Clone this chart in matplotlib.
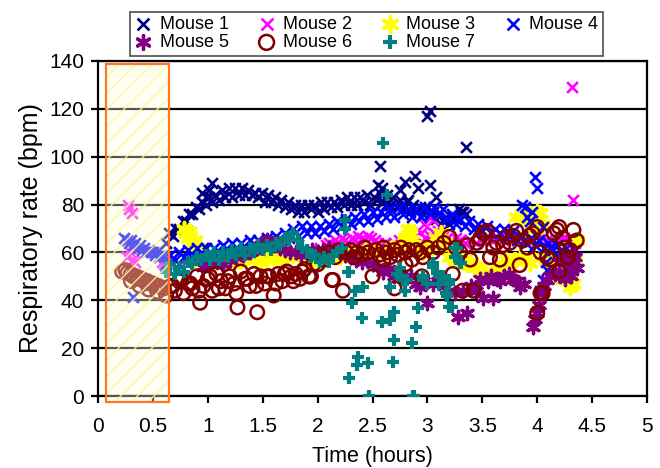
import matplotlib
matplotlib.use("Agg")
import matplotlib.pyplot as plt
from matplotlib.patches import Rectangle

plt.rcParams['font.family'] = ['Liberation Sans', 'DejaVu Sans']

# ---------------- data (time in hours, rate in bpm) ----------------
# Mouse 1
m1_t = [0.62,0.65,0.68,0.71,0.74,0.77,0.80,0.83,0.86,0.89,0.92,0.95,0.98,1.01,1.04,1.07,1.10,1.13,1.16,1.19,
        1.22,1.25,1.28,1.31,1.34,1.37,1.40,1.43,1.46,1.49,1.52,1.55,1.58,1.61,1.64,1.67,1.70,1.73,1.76,1.79,
        1.82,1.85,1.88,1.91,1.94,1.97,2.00,2.03,2.06,2.09,2.12,2.15,2.18,2.21,2.24,2.27,2.30,2.33,2.36,2.39,
        2.42,2.45,2.48,2.51,2.54,2.57,2.60,2.63,2.66,2.69,2.72,2.75,2.78,2.81,2.84,2.87,2.90,2.93,2.96,2.99,
        3.02,3.05,3.08,3.11,3.14,3.17,3.20,3.23,3.26,3.29,3.32,3.35,
        0.95,0.98,1.01,1.04,0.96,2.57,2.59,2.80,2.89,2.91,3.02,3.00,3.02,3.35,2.82,2.62,3.08,3.31,2.55,2.75]
m1_v = [64,68,67,70,70,73,73,76,76,79,78,81,80,83,81,84,82,86,83,87,
        83,87,84,87,84,86,84,85,83,85,81,84,81,83,80,82,79,81,78,80,
        77,80,77,80,78,80,77,81,78,81,79,81,79,82,80,83,80,83,80,83,
        81,84,80,83,82,85,81,84,80,83,79,82,78,81,77,80,77,79,76,78,
        75,77,74,76,73,75,72,75,74,78,77,76,
        85,83,86,89,62,96,87,89.5,92,87,88,117,119,104,82,80,83,77,88,86]

# Mouse 2
m2_t = [0.27,0.28,0.31,0.26,0.29,0.32,0.34,0.30,0.58,0.60,0.62,
        0.66,0.74,0.82,0.90,0.98,1.06,1.14,1.22,1.30,1.38,1.46,1.54,1.62,1.70,1.78,1.86,1.94,2.02,2.08,
        2.10,2.13,2.16,2.19,2.22,2.25,2.28,2.31,2.34,2.37,2.40,2.43,2.46,2.49,2.52,2.55,2.58,2.61,2.64,2.67,2.70,
        2.74,2.78,2.82,2.86,2.90,2.94,2.98,3.02,3.06,3.10,3.14,3.18,3.22,3.26,3.30,
        3.34,3.39,3.44,3.49,3.54,3.59,3.64,3.69,3.74,3.79,3.84,3.89,3.94,3.99,4.04,4.09,4.14,4.19,4.24,4.29,4.34,
        3.05,2.97,4.32,4.33]
m2_v = [80,78,76.5,58,60,57,56,62,56,55,56,
        56,55,57,56,57,56,57,58,57,58,59,58,59,60,59,60,61,62,63,
        64,63,65,64,66,65,64,66,65,67,66,65,67,66,65,64,63,64,62,63,64,
        65,64,66,65,67,68,66,67,68,69,67,66,65,66,65,
        64,65,64,65,66,65,66,65,66,67,66,65,66,67,66,65,64,65,66,65,64,
        73.5,72,129,82]

# Mouse 3
m3_t = [0.78,0.80,0.82,0.84,0.86,0.88,0.90,0.83,0.87,
        0.94,1.00,1.06,1.12,1.18,1.24,1.30,1.36,1.42,1.48,1.54,1.60,1.66,1.72,1.78,1.84,1.90,1.96,2.02,2.08,
        2.14,2.20,2.26,2.32,2.38,2.44,2.50,2.56,2.62,2.68,2.74,
        2.80,2.82,2.84,2.86,2.88,
        2.92,2.96,3.00,3.04,3.08,3.12,3.16,3.20,3.24,3.28,3.32,3.36,3.40,3.44,3.48,3.52,3.56,3.60,3.64,3.68,
        3.72,3.76,3.80,3.84,3.88,
        3.81,3.90,3.93,3.96,4.00,4.03,4.05,3.98,
        4.08,4.12,4.16,4.20,4.24,4.27,4.30,4.33,4.36,4.26,4.30,4.34,4.18,4.22,3.93,4.03]
m3_v = [70,68,66,67,64,65,62,69,63,
        56,55,56,57,56,55,57,58,57,56,57,58,57,58,59,58,57,56,57,58,
        59,58,59,60,59,61,60,61,60,62,63,
        66,70,68,65,63,
        62,60,61,63,66,68,64,58,60,57,56,55,56,54,53,52,50,51,53,55,
        57,56,57,58,57,
        75,73.5,76,74,77,76.5,72,70,
        58,55,54,56,52,48.5,45.6,47,65,50,48,57,50,53,55.6,58]

# Mouse 4
m4_t = [0.24,0.26,0.28,0.30,0.32,0.34,0.36,0.38,0.40,0.42,0.44,0.46,0.48,0.50,0.52,0.54,0.56,0.58,0.60,0.32,
        0.62,0.66,0.70,0.74,0.78,0.82,0.86,0.90,0.94,0.98,1.02,1.06,1.10,1.14,1.18,1.22,1.26,1.30,1.34,1.38,
        1.42,1.46,1.50,1.54,1.58,1.62,1.66,1.70,1.74,1.78,1.82,1.86,1.90,1.94,1.98,2.02,2.06,2.10,2.14,2.18,
        2.22,2.26,2.30,2.34,2.38,2.42,2.46,2.50,2.54,2.58,2.62,2.66,2.70,2.74,2.78,2.82,2.86,2.90,2.94,2.98,
        3.02,3.06,3.10,3.14,3.18,3.22,3.26,3.30,3.34,3.38,3.42,3.46,3.50,3.54,3.58,3.62,3.66,3.70,3.74,3.78,
        3.82,3.86,3.90,3.94,3.98,4.02,4.06,4.10,4.14,4.18,4.22,4.26,4.30,4.34,
        3.89,3.91,3.95,3.98,4.00,3.86,4.05,4.09,4.05,4.03,4.12,4.33,4.34,4.30,4.08,3.93]
m4_v = [66,65,64,65,63,64,62,63,61,62,60,61,60,60,59,60,58,59,58,41.5,
        55,59,57,60,58,61,58,62,59,62,59,62,60,63,60,64,61,64,62,65,
        62,65,63,66,64,67,65,68,66,70,67,71,68,71,68,71,69,72,70,73,
        71,74,72,75,73,76,73,77,74,77,75,78,75,79,76,78,75,78,75,79,
        76,79,76,78,74,76,72,74,71,73,70,72,69,71,68,70,68,70,67,69,
        65,67,64,66,63,65,62,64,61,63,60,62,59,61,
        79,75,77,91.5,87,80,70.6,52.6,48.5,44,62,58,57,55,56,73]

# Mouse 5
m5_t = [0.96,1.02,1.08,1.14,1.20,1.26,1.32,1.38,
        1.42,1.45,1.48,1.51,1.54,1.57,1.60,1.63,1.66,
        1.70,1.75,1.80,1.85,1.90,1.95,2.00,2.05,2.10,2.15,2.20,2.25,2.30,2.35,2.40,2.45,2.50,
        2.55,2.60,2.65,2.70,2.75,2.80,2.85,2.90,2.93,2.96,3.00,3.05,3.10,3.15,3.20,3.25,
        3.28,3.32,3.36,3.40,3.44,3.48,3.51,3.55,3.58,3.60,3.63,3.66,3.70,3.74,3.78,3.81,3.84,3.88,
        3.96,3.98,4.00,4.02,4.04,4.06,4.09,4.12,4.16,4.20,4.24,4.28,4.32,4.36,
        4.20,4.28,4.34,4.25,4.31]
m5_v = [54,55,56,55,57,58,59,60,
        61,62,63,64,65,64,63,64,62,
        61,60,60,59,60,61,60,61,62,61,60,59,58,57,56,57,55,
        54,52,53,50,51,49,50,47,45.6,48,39,47,48,46,44,43,
        33,44,34.7,46,44,49,41,48,50,41,49,48,50,51,49,48,45.6,47,
        29,32,34.7,38,43,46,48.5,50,51,51,52,53,53.5,53.5,
        56,57,58,49,50]

# Mouse 6
m6_t = [0.22,0.25,0.27,0.30,0.32,0.35,0.37,0.40,0.42,0.45,0.47,0.50,0.52,0.55,0.57,0.60,0.30,0.38,0.46,0.54,
        0.62,0.66,0.70,0.74,0.78,0.82,0.86,0.90,0.93,0.96,1.00,1.04,1.08,1.12,1.16,1.20,1.24,1.27,1.30,1.34,
        1.38,1.42,1.45,1.48,1.52,1.56,1.60,1.64,1.68,1.72,1.76,1.80,1.84,1.88,1.92,1.96,2.00,
        0.68,0.76,0.84,0.92,1.02,1.10,1.18,1.26,1.36,1.44,1.54,1.62,1.70,1.78,1.86,1.94,
        2.03,2.06,2.10,2.13,2.16,2.20,2.23,2.26,2.30,2.33,2.36,2.40,2.43,2.46,2.50,2.53,2.56,2.60,2.63,2.66,
        2.70,2.73,2.76,2.80,2.83,2.86,2.90,2.93,2.96,3.00,
        1.93,2.14,2.70,2.95,2.60,2.80,
        3.05,3.10,3.15,3.20,3.23,3.26,3.30,3.32,3.36,3.39,3.42,3.45,3.48,3.51,3.54,3.57,3.60,3.63,3.66,3.69,
        3.72,3.75,3.78,3.81,3.84,3.87,3.91,3.93,3.96,4.00,4.03,4.05,4.09,4.12,4.15,4.18,4.20,4.23,4.26,4.28,
        4.30,4.33,4.36,4.00,4.03,4.20]
m6_v = [52,52.6,51.5,51,50,50,49,49,48,48,47,47,46,46,45.5,45,48,46,44.5,43.5,
        42,46,44,48,43,47,45,50,39,46,49,44,51,48,45,50,47,37,52,49,
        46,51,35,50,47,50,42,51,48,52,50,51,49,53,50,55,55,
        46,49,47,44,50,45,48,43,49,46,50,47,51,48,52,50,
        59,57,60,48.5,58,61,44,60,61,58,60,59,62,60,50,61,59,62,60,58,
        61,59,62,60,61,57,61,60,58,62,
        50,48.5,45,50,57,55,
        60,62,64,66.5,51,62,60,44,63,57,44,64,66,68,69,58,62,64,57,63,
        66.5,64,67,69,54.7,65,62,67,68,70.6,60,43,58,57,68,69.4,70.6,66,62,58,
        61,69.4,65,34.7,43,52]

# Mouse 7
m7_t = [0.62,0.66,0.70,0.74,0.78,0.82,0.86,0.90,0.94,0.98,1.02,1.06,1.10,1.14,1.18,1.22,1.26,1.30,1.34,1.38,
        1.42,1.46,1.50,1.54,1.58,1.62,1.66,1.70,1.74,1.78,1.82,1.86,1.90,1.94,1.98,2.02,2.06,2.10,2.14,2.18,2.22,
        2.25,2.25,2.60,2.63,2.29,2.34,2.31,2.41,2.40,2.37,2.36,2.46,2.29,2.47,2.59,2.66,2.70,2.70,2.69,2.86,
        2.90,2.91,2.87,2.66,2.75,2.80,2.81,2.75,2.96,3.00,3.05,3.11,3.17,3.20,3.25,3.27,3.31,3.20,3.09,2.28,
        2.72,2.78,2.96,3.11,3.05,3.22,3.18,3.14,3.25,3.27,3.30,3.20,2.88]
m7_v = [52,55,51,54,52,56,55,58,57,59,57,60,57,60,58,61,59,62,59,62,
        60,63,61,63,61,64,63,66,65,68,65,62,61,58,59,56,58,56,59,60,62,
        73.5,70,105.7,84,52,44,39,45.6,32.6,16.3,13,13.8,7.5,0,31,31.8,35,23.4,14.2,22,
        29,36.8,0,45.6,50,44,48.5,53.5,50,47,55.6,47,43,37,58,62,55.6,48.5,51.4,52,
        51,48.5,48.5,50,54,37,42,50,62,58,55.6,47,0]

labels = ['Mouse 1', 'Mouse 2', 'Mouse 3', 'Mouse 4', 'Mouse 5', 'Mouse 6', 'Mouse 7']
x_ticks = [0, 0.5, 1, 1.5, 2, 2.5, 3, 3.5, 4, 4.5, 5]
x_tick_labels = ['0', '0.5', '1', '1.5', '2', '2.5', '3', '3.5', '4', '4.5', '5']
y_ticks = [0, 20, 40, 60, 80, 100, 120, 140]
shade_start, shade_end = 0.07, 0.65
shade_low, shade_high = -2.4, 138.6

# ---------------- figure ----------------
fig = plt.figure(figsize=(6.6, 4.68), dpi=100)
ax = fig.add_axes([98/660, 1-396/468, (647-98)/660, (396-61)/468])

asterisk = (6, 2, 0)
ax.scatter(m1_t, m1_v, marker='x', s=60, c='#000080', linewidths=1.9, label=labels[0], zorder=3)
ax.scatter(m2_t, m2_v, marker='x', s=60, c='#FF00FF', linewidths=1.9, label=labels[1], zorder=3)
ax.scatter(m3_t, m3_v, marker=asterisk, s=100, c='#FFFF00', linewidths=2.6, label=labels[2], zorder=3)
ax.scatter(m4_t, m4_v, marker='x', s=60, c='#0000FF', linewidths=1.9, label=labels[3], zorder=3)
ax.scatter(m5_t, m5_v, marker=asterisk, s=80, c='#800080', linewidths=2.4, label=labels[4], zorder=3)
ax.scatter(m6_t, m6_v, marker='o', s=95, facecolors='none', edgecolors='#800000', linewidths=1.8,
           label=labels[5], zorder=3)
ax.scatter(m7_t, m7_v, marker='+', s=85, c='#008080', linewidths=3.0, label=labels[6], zorder=3)

# shaded window
plt.rcParams['hatch.linewidth'] = 1.0
ax.add_patch(Rectangle((shade_start, shade_low), shade_end - shade_start, shade_high - shade_low,
                       facecolor=(1.0, 1.0, 0.85, 0.35), edgecolor=(0.98, 0.96, 0.62, 0.9),
                       hatch='//', linewidth=0, zorder=4, clip_on=False))
ax.add_patch(Rectangle((shade_start, shade_low), shade_end - shade_start, shade_high - shade_low,
                       facecolor='none', edgecolor='#FF7722', linewidth=1.6, zorder=5, clip_on=False))

ax.set_xlim(0, 5)
ax.set_ylim(0, 140)
ax.set_xticks(x_ticks)
ax.set_xticklabels(x_tick_labels)
ax.set_yticks(y_ticks)
ax.yaxis.grid(True, color='black', linewidth=1.6, zorder=1)
ax.set_axisbelow(True)
for sp in ax.spines.values():
    sp.set_linewidth(1.6)
ax.tick_params(axis='both', direction='out', length=5, width=1.6, labelsize=15)
ax.tick_params(axis='x', pad=10)
ax.tick_params(axis='y', pad=5)
ax.set_xlabel('Time (hours)', fontsize=15.5, labelpad=7)
ax.set_ylabel('Respiratory rate (bpm)', fontsize=18, labelpad=4)

h, l = ax.get_legend_handles_labels()
order = [0, 4, 1, 5, 2, 6, 3]
leg = fig.legend([h[i] for i in order], [l[i] for i in order], ncol=4, loc='upper center',
                 bbox_to_anchor=(0.555, 0.975), fontsize=13, frameon=True, fancybox=False,
                 edgecolor='#333333', handlelength=1.0, handletextpad=0.4, columnspacing=1.6,
                 borderpad=0.25, labelspacing=0.05, markerscale=1.1, borderaxespad=0)
leg.get_frame().set_linewidth(1.3)

fig.savefig('out.png', dpi=100)
